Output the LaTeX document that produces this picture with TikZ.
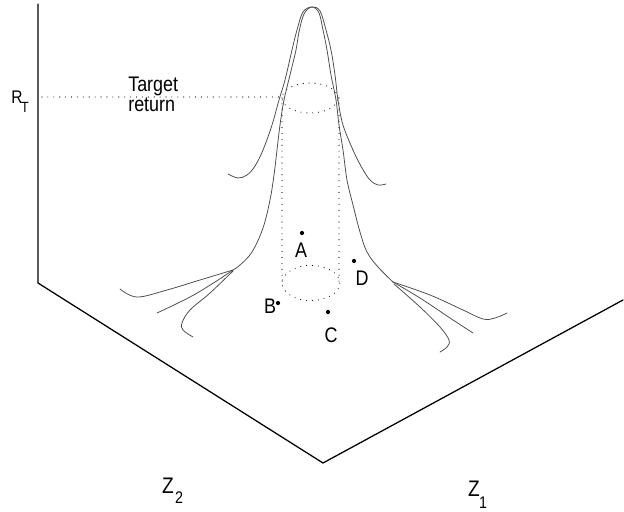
\documentclass[tikz,border=0pt]{standalone}
\usepackage{fontspec}
\setmainfont[FakeStretch=0.85]{Liberation Sans}
\usetikzlibrary{positioning}

\begin{document}
\begin{tikzpicture}[x=0.025cm, y=-0.025cm, line cap=round, line join=round,
    axis/.style={line width=0.9pt},
    surf/.style={black!70, line width=0.55pt},
    dots/.style={line width=0.8pt, dash pattern=on 0pt off 4.2pt},
    lbl/.style={font=\fontsize{15}{14.2}\selectfont, inner sep=0pt},
    sublbl/.style={font=\fontsize{12}{12}\selectfont, inner sep=0pt},
    pt/.style={circle, fill, inner sep=0pt, minimum size=3pt}]

    \useasboundingbox (0,0) rectangle (624,512);

    % Axes
    \coordinate (top) at (38,4);
    \coordinate (O) at (38,283);
    \coordinate (V) at (323,463);
    \coordinate (E) at (623,300);
    \draw[axis] (top) -- (O) -- (V) -- (E);

    % Axis labels
    \node[lbl, font=\fontsize{13}{13}\selectfont] (R) at (17,97) {R};
    \node[sublbl, font=\fontsize{10.5}{10.5}\selectfont] (Rs) at (25,107) {T};
    \node[lbl, font=\fontsize{16}{16}\selectfont] (Z2) at (168,486) {Z};
    \node[sublbl] (Z2s) at (179,498) {2};
    \node[lbl, font=\fontsize{16}{16}\selectfont] (Z1) at (474,489) {Z};
    \node[sublbl] (Z1s) at (483,503) {1};

    % Target return level
    \coordinate (RT) at (42,97);
    \coordinate (cylTop) at (310,98);
    \coordinate (cylBot) at (311,283);
    \draw[dots] (RT) -- (282,97);
    \node[lbl, align=left, anchor=north west] (target) at (128,77) {Target\\return};

    % Dotted cylinder
    \draw[dots] (cylTop) ellipse [x radius=0.7cm, y radius=0.375cm];
    \draw[dots] (cylBot) ellipse [x radius=0.72cm, y radius=0.44cm];
    \draw[dots] (282,98) -- (282,283);
    \draw[dots] (339,98) -- (339,283);

    % Back profile of the surface
    \draw[surf] plot[smooth, tension=0.6] coordinates {
        (228,174) (238,178) (247,175) (255,166) (263,150) (272,125)
        (279,100) (285,80) (292,50) (297,30) (303,12) (312,7)
        (320,11) (326,30) (331,50) (335,75) (338,100) (343,125)
        (353,150) (362,168) (370,180) (378,185) (386,184)};

    % Front profile of the surface
    \draw[surf] plot[smooth, tension=0.6] coordinates {
        (233,270) (240,265) (252,252) (263,228) (270,200) (274,175)
        (277,150) (280,125) (284,100) (290,75) (296,50) (299,32)
        (304,14) (312,7) (319,13) (323,30) (327,50) (331,75)
        (336,100) (339,125) (343,150) (347,180) (353,205) (360,232)
        (367,252) (378,267) (393,282)};

    % Left tails
    \draw[surf] plot[smooth, tension=0.6] coordinates {
        (233,270) (200,280) (167,290) (137,297) (120,289)};
    \draw[surf] plot[smooth, tension=0.6] coordinates {
        (233,270) (215,282) (190,297) (157,313)};
    \draw[surf] plot[smooth, tension=0.6] coordinates {
        (233,271) (210,293) (190,310) (182,323) (183,330) (193,337)};

    % Right tails
    \draw[surf] plot[smooth, tension=0.6] coordinates {
        (393,282) (430,295) (463,310) (483,319) (495,318) (507,313)};
    \draw[surf] plot[smooth, tension=0.6] coordinates {
        (393,282) (420,298) (450,318) (473,333)};
    \draw[surf] plot[smooth, tension=0.6] coordinates {
        (394,284) (420,307) (440,327) (449,340) (447,347) (440,352)};

    % Portfolio points
    \foreach \n/\x/\y in {A/302/233, B/278/303, C/328/312, D/354/261}{
        \node[pt] (s\n) at (\x,\y) {};
    }
    \node[lbl] (A) at (301,250) {A};
    \node[lbl] (B) at (270,306) {B};
    \node[lbl] (C) at (331,335) {C};
    \node[lbl] (D) at (362,278) {D};

\end{tikzpicture}
\end{document}
